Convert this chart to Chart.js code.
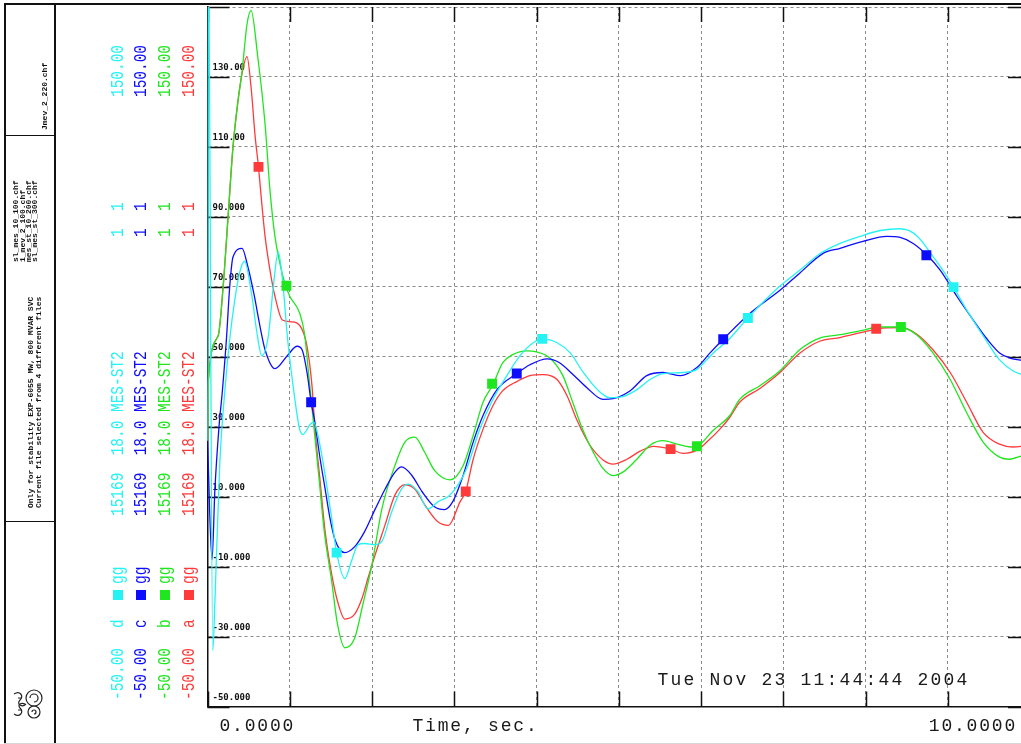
<!DOCTYPE html>
<html>
<head>
<meta charset="utf-8">
<title>15169 MES-ST2 18.0 - four case comparison</title>
<script src="https://cdn.jsdelivr.net/npm/chart.js@4.4.1/dist/chart.umd.min.js"></script>
<style>
  html, body { margin:0; padding:0; background:#fff; width:1021px; height:744px; overflow:hidden; }
  #plot { position:absolute; left:0; top:0; }
  #panel { position:absolute; left:0; top:0; width:1021px; height:744px; pointer-events:none; }
  .ln { position:absolute; background:#111; }
  .rt { position:absolute; white-space:pre; transform-origin:0 0; font-family:'Liberation Mono','DejaVu Sans Mono',monospace; }
  .sq { position:absolute; width:10px; height:10px; }
</style>
</head>
<body>
<canvas id="plot" width="1040" height="744"></canvas>
<div id="panel"></div>
<script>
// ---- channel data (time in s, value) ----
const caseNames  = ['a', 'b', 'c', 'd'];
const caseColors = ['#ff3a3a', '#1fe61f', '#0c0cff', '#25f2f2'];
const busLabel   = '15169  18.0 MES-ST2';
const channelId  = '1  1';
const scaleMax   = '150.00';
const scaleMin   = '-50.00';
const quantity   = 'gg';

const tA = [0, 0.01, 0.13, 0.19, 0.25, 0.31, 0.37, 0.42, 0.48, 0.53, 0.58, 0.62, 0.66, 0.70, 0.76, 0.82, 0.91, 1.02, 1.12, 1.21, 1.27, 1.31, 1.37, 1.43, 1.51, 1.59, 1.67, 1.79, 1.88, 1.95, 2.04, 2.16, 2.28, 2.40, 2.52, 2.64, 2.80, 2.93, 3.07, 3.14, 3.23, 3.35, 3.47, 3.59, 3.76, 3.92, 4.08, 4.25, 4.37, 4.49, 4.65, 4.81, 4.93, 5.10, 5.26, 5.42, 5.63, 5.78, 5.95, 6.07, 6.23, 6.35, 6.47, 6.72, 6.96, 7.20, 7.45, 7.69, 7.93, 8.15, 8.42, 8.62, 8.82, 9.03, 9.23, 9.43, 9.63, 9.79, 9.89, 10];
const vA = [26, 43, 56, 70, 90, 110, 123, 131, 135.8, 127, 112.8, 104.3, 93.8, 84.4, 74.7, 67.3, 60.5, 60, 59, 53, 41.8, 28.4, 14.2, 0, -12.2, -20.7, -25, -23.6, -19, -13.4, -6.5, 2, 10.5, 13.4, 12.2, 7.7, 2.8, 1.8, 8.5, 11.5, 20.7, 29.3, 36, 40.3, 42.9, 44.6, 44.9, 43.5, 38.9, 32, 24.7, 20.5, 19.3, 20.7, 23, 24.4, 23.6, 22.4, 23.3, 25.6, 29.3, 32.7, 37, 41, 45.5, 51, 54.5, 55.5, 56.8, 58, 58.3, 56.5, 52, 45.5, 37, 28.4, 25, 24.2, 24.4, 25];

const tB = [0, 0.01, 0.13, 0.19, 0.25, 0.31, 0.37, 0.42, 0.48, 0.53, 0.61, 0.70, 0.76, 0.82, 0.88, 0.94, 1.00, 1.12, 1.18, 1.24, 1.30, 1.36, 1.42, 1.51, 1.58, 1.67, 1.79, 1.89, 2.00, 2.12, 2.28, 2.40, 2.52, 2.64, 2.76, 2.95, 3.11, 3.23, 3.35, 3.47, 3.59, 3.71, 3.88, 4.00, 4.16, 4.32, 4.44, 4.56, 4.69, 4.81, 4.93, 5.05, 5.22, 5.38, 5.54, 5.71, 5.87, 5.95, 6.15, 6.35, 6.47, 6.72, 6.96, 7.20, 7.45, 7.69, 7.93, 8.18, 8.42, 8.62, 8.82, 9.03, 9.23, 9.43, 9.63, 9.75, 9.89, 10];
const vB = [26, 43, 56, 70, 90, 110, 123, 131.5, 145, 149, 136, 116.5, 97.5, 84.4, 76.7, 71, 67.3, 62.5, 56.5, 42.6, 28.4, 14.2, 0, -14.2, -26.4, -33.2, -30.4, -20.7, -9.4, 6.5, 19, 25.6, 27, 22.7, 17.5, 14.8, 19, 27.5, 37, 42, 48.3, 50.6, 51.7, 51.4, 49.7, 44.6, 37, 29.3, 22.7, 18, 16, 17, 20.7, 24.7, 26, 25, 24.2, 24.4, 29, 33.2, 37.8, 41.8, 46, 52, 55.4, 56.3, 57.4, 58.5, 58.5, 56.3, 51.1, 43.5, 34, 25.6, 21.3, 20.7, 21.6, 22.5];

const tC = [0, 0.055, 0.09, 0.14, 0.18, 0.23, 0.27, 0.31, 0.42, 0.49, 0.57, 0.63, 0.70, 0.82, 0.97, 1.09, 1.15, 1.21, 1.26, 1.30, 1.37, 1.43, 1.49, 1.55, 1.67, 1.79, 1.91, 2.04, 2.16, 2.28, 2.36, 2.48, 2.61, 2.76, 2.88, 2.98, 3.11, 3.23, 3.35, 3.52, 3.76, 3.92, 4.13, 4.28, 4.44, 4.61, 4.81, 4.93, 5.14, 5.34, 5.54, 5.75, 5.95, 6.11, 6.27, 6.60, 6.96, 7.20, 7.48, 7.69, 7.97, 8.26, 8.42, 8.58, 8.75, 8.91, 9.11, 9.31, 9.48, 9.63, 9.75, 9.89, 10];
const vC = [26, -8, 12, 30, 40, 55, 70, 78.5, 81, 75.8, 67.3, 59.7, 52, 46.6, 50.3, 53, 52, 45.5, 37, 32, 20.7, 12.2, 3.7, -2.3, -6, -4.3, 0, 6.5, 12.2, 17, 18.5, 16.2, 11.4, 7.1, 6.3, 8.5, 16.2, 25.6, 33.2, 40.6, 45.2, 47.7, 49.4, 48.3, 45, 41.2, 37.8, 38, 40.3, 44.6, 45.5, 44.6, 46.9, 51.1, 55, 62.5, 69, 73.9, 79.5, 81, 83, 84.4, 84.1, 82.4, 79, 74.7, 67.3, 60.5, 55, 51.1, 49.7, 49, 48.8];

const tD = [0, 0.003, 0.008, 0.065, 0.09, 0.15, 0.21, 0.27, 0.33, 0.39, 0.45, 0.54, 0.60, 0.66, 0.74, 0.80, 0.86, 0.92, 0.97, 1.04, 1.12, 1.16, 1.25, 1.29, 1.36, 1.43, 1.51, 1.57, 1.67, 1.75, 1.83, 1.91, 2.04, 2.12, 2.24, 2.36, 2.44, 2.56, 2.68, 2.80, 2.95, 3.15, 3.31, 3.47, 3.64, 3.80, 3.96, 4.07, 4.25, 4.41, 4.57, 4.74, 4.89, 5.05, 5.22, 5.38, 5.54, 5.78, 5.95, 6.15, 6.32, 6.57, 6.96, 7.20, 7.45, 7.69, 7.93, 8.18, 8.42, 8.62, 8.82, 8.99, 9.07, 9.23, 9.43, 9.63, 9.79, 9.89, 10];
const vD = [26, 43, 175, -34, -20, 20, 40, 55, 66, 74, 77.3, 67.3, 57, 50.3, 56, 70, 80, 70, 56, 41.8, 29.3, 27.8, 30.7, 31.3, 25.6, 16.2, 3.7, -6, -13.4, -8.5, -3.7, -3.4, -3.7, -2.8, 5.7, 12.2, 13.6, 11.4, 6.5, 8.5, 10.5, 18, 29.3, 37.8, 44.6, 50.3, 54, 55.1, 54, 51.1, 45.5, 40.6, 38.3, 38.6, 40.6, 43.5, 45.2, 45.5, 46.4, 51.1, 54.5, 61.1, 70.2, 74.7, 79.5, 82.4, 84.4, 86.1, 86.6, 84.7, 78.7, 73, 69.9, 63.4, 56, 49.1, 46, 45, 44];

// symbol positions along each curve
const markA_t = [0.62, 3.14, 5.63, 8.13], markA_v = [104.3, 11.5, 23.6, 58];
const markB_t = [0.96, 3.46, 5.95, 8.43], markB_v = [70.3, 42.3, 24.4, 58.5];
const markC_t = [1.26, 3.76, 6.27, 8.74], markC_v = [37, 45.2, 55, 79];
const markD_t = [1.57, 4.07, 6.57, 9.07], markD_v = [-6, 55.1, 61.1, 69.9];

// y axis
const yTickValues = [-50, -30, -10, 10, 30, 50, 70, 90, 110, 130, 150];
const yTickLabels = ['-50.000', '-30.000', '-10.000', '10.000', '30.000', '50.000', '70.000', '90.000', '110.00', '130.00', ''];
const xMinLabel = '0.0000', xMaxLabel = '10.0000', xTitle = 'Time, sec.';
const stamp = 'Tue Nov 23 11:44:44 2004';

const series = [
  { t: tA, v: vA, mt: markA_t, mv: markA_v },
  { t: tB, v: vB, mt: markB_t, mv: markB_v },
  { t: tC, v: vC, mt: markC_t, mv: markC_v },
  { t: tD, v: vD, mt: markD_t, mv: markD_v }
];

const pts = (t, v) => t.map((x, i) => ({ x: x, y: v[i] }));

const datasets = [];
series.forEach((s, i) => {
  datasets.push({
    type: 'line', data: pts(s.t, s.v), borderColor: caseColors[i], borderWidth: 1.3,
    pointRadius: 0, fill: false, tension: 0.4, cubicInterpolationMode: 'monotone', order: 10 - i
  });
});
series.forEach((s, i) => {
  datasets.push({
    type: 'scatter', data: pts(s.mt, s.mv), pointStyle: 'rect', pointRadius: 7,
    backgroundColor: caseColors[i], borderWidth: 0, order: 1
  });
});

// frame tick marks and plot captions
const frameDecor = {
  id: 'frameDecor',
  beforeDatasetsDraw(chart) {
    const { ctx, chartArea: a, scales: { x, y } } = chart;
    ctx.save();
    ctx.strokeStyle = '#111';
    ctx.lineWidth = 1.5;
    ctx.beginPath();
    y.ticks.forEach(tk => {
      const py = Math.round(y.getPixelForValue(tk.value)) + 0.5;
      ctx.moveTo(a.left, py); ctx.lineTo(a.left + 22, py);
      ctx.moveTo(a.right - 22, py); ctx.lineTo(a.right, py);
    });
    x.ticks.forEach(tk => {
      const px = Math.round(x.getPixelForValue(tk.value)) + 0.5;
      ctx.moveTo(px, a.top); ctx.lineTo(px, a.top + 15);
      ctx.moveTo(px, a.bottom - 15); ctx.lineTo(px, a.bottom);
    });
    ctx.stroke();
    ctx.restore();
  },
  afterDraw(chart) {
    const { ctx, chartArea: a, scales: { x } } = chart;
    ctx.save();
    ctx.fillStyle = '#1a1a1a';
    ctx.font = '18px "Liberation Mono", "DejaVu Sans Mono", monospace';
    const sp = 'letterSpacing' in ctx;
    if (sp) ctx.letterSpacing = '1.8px';
    ctx.textBaseline = 'middle';
    ctx.textAlign = 'left';
    ctx.fillText(xMinLabel, x.getPixelForValue(0) + 12, a.bottom + 20);
    ctx.fillText(xTitle, a.left + 205, a.bottom + 20);
    ctx.textAlign = 'right';
    ctx.fillText(xMaxLabel, x.getPixelForValue(10) - 13, a.bottom + 20);
    if (sp) ctx.letterSpacing = '2.2px';
    ctx.textAlign = 'left';
    ctx.fillText(stamp, a.left + 450, a.bottom - 26);
    ctx.restore();
  }
};

const gridCommon = { color: '#8a8a8a', lineWidth: 1, drawTicks: false };
const noPad = (s) => { s.paddingTop = 0; s.paddingBottom = 0; s.paddingLeft = 0; s.paddingRight = 0; };

new Chart(document.getElementById('plot'), {
  data: { datasets: datasets },
  options: {
    responsive: false, animation: false, devicePixelRatio: 1,
    layout: { padding: { left: 207.5, top: 2, right: 10, bottom: 37.5 } },
    plugins: { legend: { display: false }, tooltip: { enabled: false } },
    scales: {
      x: {
        type: 'linear', min: 0, max: 10,
        afterFit(s) { s.height = 0; noPad(s); },
        ticks: { display: false, stepSize: 1, autoSkip: false },
        grid: gridCommon,
        border: { display: true, color: '#111', width: 1.5, dash: [3, 3] }
      },
      y: {
        type: 'linear', min: -50, max: 150,
        afterFit(s) { s.width = 0; noPad(s); },
        ticks: {
          stepSize: 20, autoSkip: false, mirror: true, padding: 5, labelOffset: -9,
          color: '#111', font: { family: 'DejaVu Sans Mono', size: 9, weight: 'bold' },
          callback: (v) => { const k = yTickValues.indexOf(v); return k < 0 ? '' : yTickLabels[k]; }
        },
        grid: gridCommon,
        border: { display: true, color: '#111', width: 1.5, dash: [3, 3] }
      }
    }
  },
  plugins: [frameDecor]
});

// ---- left information panel ----
const panel = document.getElementById('panel');
function line(x, y, w, h, c) {
  const d = document.createElement('div');
  d.className = 'ln';
  d.style.left = x + 'px'; d.style.top = y + 'px';
  d.style.width = w + 'px'; d.style.height = h + 'px';
  if (c) d.style.background = c;
  panel.appendChild(d);
}
function vtext(str, cx, bottom, o) {
  const lh = o.lh || o.size;
  const d = document.createElement('div');
  d.className = 'rt';
  d.textContent = str;
  d.style.fontSize = o.size + 'px';
  d.style.lineHeight = lh + 'px';
  d.style.height = lh + 'px';
  d.style.left = (cx - lh / 2) + 'px';
  d.style.top = bottom + 'px';
  d.style.color = o.color || '#111';
  if (o.ls) d.style.letterSpacing = o.ls + 'px';
  if (o.bold) d.style.fontWeight = 'bold';
  d.style.transform = 'rotate(-90deg)' + (o.sx ? ' scaleX(' + o.sx + ')' : '');
  panel.appendChild(d);
}

line(4, 3, 1017, 1.5);
line(4, 3, 1.5, 741);
line(54, 3, 1.5, 741);
line(4, 134.5, 51, 1.5);
line(4, 520.5, 51, 1.5);
line(4, 742.5, 1017, 1, '#d6d6d6');

// file names and notes
const sm = { size: 8, bold: true, sx: 1.0 };
vtext('Jmev_2_220.chf', 45, 130, sm);
vtext('sl_mes_10_100.chf', 16, 262, sm);
vtext('1_mev_2_100.chf', 23, 262, sm);
vtext('mes_st_10_200.chf', 29, 262, sm);
vtext('sl_mes_st_300.chf', 35, 262, sm);
vtext('Only for stability EXP-6055 MW, 800 MVAR SVC', 31, 508, sm);
vtext('Current file selected from 4 different files', 39, 508, sm);

// ornament in the bottom box
const orn = document.createElement('div');
orn.style.cssText = 'position:absolute;left:10px;top:686px;width:36px;height:36px;';
orn.innerHTML = '<svg width="36" height="36" viewBox="0 0 36 36" fill="none" stroke="#222" stroke-width="1.2">' +
  '<circle cx="24" cy="12" r="8"/><path d="M24 12 m-4 0 a4 4 0 1 1 4 4"/>' +
  '<circle cx="24" cy="26" r="6"/><path d="M22 26 a2 2 0 1 1 2 2"/>' +
  '<path d="M4 8 C10 4 14 10 10 14 C6 18 12 22 16 18"/><path d="M4 28 C10 32 14 26 10 22 C7 19 11 16 15 18"/>' +
  '<path d="M8 12 l4 0 M8 24 l4 0"/></svg>';
panel.appendChild(orn);

// legend columns: one per case
const colX = [189, 165, 141, 118];
const big = { size: 19, sx: 0.76 };
caseNames.forEach((nm, i) => {
  const o = Object.assign({}, big, { color: caseColors[i] });
  const cx = colX[i];
  vtext(scaleMin, cx, 700, o);
  vtext(nm, cx, 628, o);
  const sq = document.createElement('div');
  sq.className = 'sq';
  sq.style.left = (cx - 5) + 'px'; sq.style.top = '590px';
  sq.style.background = caseColors[i];
  panel.appendChild(sq);
  vtext(quantity, cx, 584, o);
  vtext(busLabel, cx, 516, o);
  vtext(channelId, cx, 237, o);
  vtext(scaleMax, cx, 97, o);
});
</script>
</body>
</html>
